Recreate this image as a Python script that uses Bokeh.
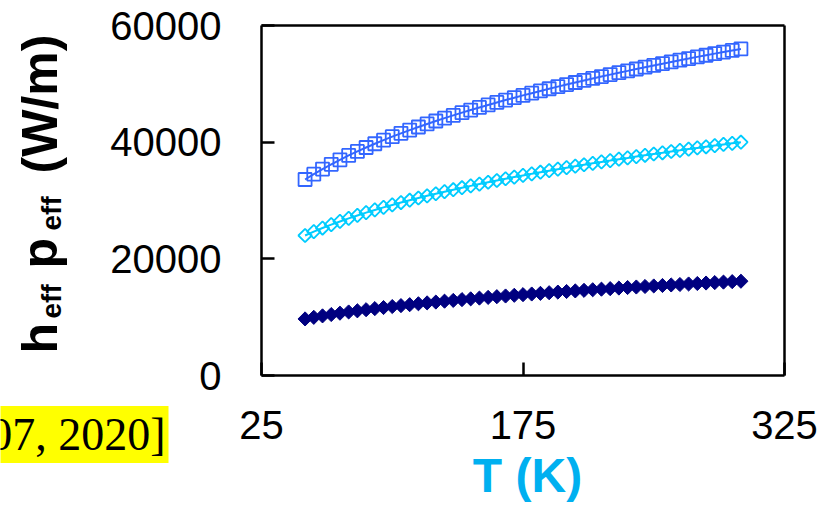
import math
from bokeh.plotting import figure
from bokeh.models import Range1d, FixedTicker, Label, NumeralTickFormatter, LinearAxis
from bokeh.embed import file_html
from bokeh.resources import INLINE

# ---- data ----
T = [50, 55, 60, 65, 70, 75, 80, 85, 90, 95, 100, 105, 110, 115, 120, 125,
     130, 135, 140, 145, 150, 155, 160, 165, 170, 175, 180, 185, 190, 195,
     200, 205, 210, 215, 220, 225, 230, 235, 240, 245, 250, 255, 260, 265,
     270, 275, 280, 285, 290, 295, 300]

BLUE_SQ = [33600, 34520, 35390, 36210, 36980, 37720, 38410, 39090, 39730, 40340,
           40940, 41510, 42070, 42600, 43120, 43630, 44120, 44590, 45060, 45510,
           45950, 46380, 46810, 47220, 47620, 48020, 48400, 48780, 49160, 49520,
           49880, 50230, 50580, 50920, 51250, 51580, 51910, 52220, 52540, 52850,
           53160, 53450, 53750, 54050, 54330, 54620, 54900, 55180, 55450, 55720,
           55990]

CYAN_DM = [24000, 24660, 25280, 25860, 26410, 26940, 27440, 27920, 28380, 28820,
           29240, 29650, 30050, 30430, 30800, 31160, 31510, 31850, 32190, 32510,
           32820, 33130, 33430, 33730, 34020, 34300, 34570, 34850, 35110, 35370,
           35630, 35880, 36130, 36370, 36610, 36840, 37080, 37300, 37530, 37750,
           37970, 38180, 38400, 38600, 38810, 39010, 39210, 39410, 39610, 39800,
           39990]

NAVY_DM = [9700, 9970, 10220, 10450, 10680, 10890, 11090, 11280, 11470, 11650,
           11820, 11980, 12140, 12300, 12450, 12590, 12740, 12870, 13010, 13140,
           13270, 13390, 13510, 13630, 13750, 13860, 13970, 14080, 14190, 14300,
           14400, 14500, 14600, 14700, 14800, 14890, 14990, 15080, 15170, 15260,
           15350, 15430, 15520, 15600, 15690, 15770, 15850, 15930, 16010, 16090,
           16160]

X_TICKS = [25, 175, 325]
Y_TICKS = [0, 20000, 40000, 60000]
X_MIN, X_MAX = 25, 325
Y_MIN, Y_MAX = 0, 60000

# ---- layout (picture pixels) ----
W, H = 832, 504
FL, FR, FT, FB = 261, 784, 25, 375  # box edges of the data area


def dx(px):
    return X_MIN + (px - FL) * (X_MAX - X_MIN) / (FR - FL)


def dy(py):
    return Y_MIN + (FB - py) * (Y_MAX - Y_MIN) / (FB - FT)


# the frame spans the whole canvas; the boxed data area is drawn by axes
p = figure(width=W, height=H,
           x_range=Range1d(dx(0), dx(W)), y_range=Range1d(dy(H), dy(0)),
           x_axis_location=None, y_axis_location=None, min_border=0,
           output_backend="svg", toolbar_location=None)
p.background_fill_color = "white"
p.border_fill_color = "white"
p.outline_line_color = None
p.grid.visible = False


def style_axis(ax, with_labels):
    ax.axis_line_color = "black"
    ax.axis_line_width = 2.5
    ax.major_tick_in = 13
    ax.major_tick_out = 0
    ax.major_tick_line_width = 2.5
    ax.major_tick_line_color = "black" if with_labels else None
    ax.minor_tick_line_color = None
    ax.major_label_text_font = "Liberation Sans"
    ax.major_label_text_font_size = "40px"
    ax.major_label_text_color = "black" if with_labels else None


xaxis = LinearAxis(fixed_location=Y_MIN, bounds=(X_MIN, X_MAX),
                   ticker=FixedTicker(ticks=X_TICKS))
style_axis(xaxis, True)
xaxis.major_label_standoff = 35
p.add_layout(xaxis, "below")

yaxis = LinearAxis(fixed_location=X_MIN, bounds=(Y_MIN, Y_MAX),
                   ticker=FixedTicker(ticks=Y_TICKS),
                   formatter=NumeralTickFormatter(format="0"))
style_axis(yaxis, True)
yaxis.major_label_standoff = 40
p.add_layout(yaxis, "left")

top = LinearAxis(fixed_location=Y_MAX, bounds=(X_MIN, X_MAX),
                 ticker=FixedTicker(ticks=[]))
style_axis(top, False)
p.add_layout(top, "above")

right = LinearAxis(fixed_location=X_MAX, bounds=(Y_MIN, Y_MAX),
                   ticker=FixedTicker(ticks=[]))
style_axis(right, False)
p.add_layout(right, "right")

# ---- series ----
p.line(T, NAVY_DM, line_color="#000080", line_width=2)
p.scatter(T, NAVY_DM, marker="square", size=10, angle=math.pi / 4,
          fill_color="#000080", line_color="#000080", line_width=1)

p.line(T, CYAN_DM, line_color="#00CCFF", line_width=2)
p.scatter(T, CYAN_DM, marker="square", size=9.5, angle=math.pi / 4,
          fill_color=None, line_color="#00CCFF", line_width=1.8)

p.line(T, BLUE_SQ, line_color="#3366FF", line_width=2)
p.scatter(T, BLUE_SQ, marker="square", size=13,
          fill_color=None, line_color="#3366FF", line_width=1.8)

# ---- axis titles ----
p.add_layout(Label(x=dx(527), y=dy(475), text="T (K)", text_align="center",
                   text_baseline="middle", text_font="Liberation Sans",
                   text_font_style="bold", text_font_size="48px",
                   text_color="#00B0F0"))

YLABEL_PARTS = [("h", 353, 39, "50px"), ("eff", 318, 51, "28px"),
                ("p", 268, 39, "50px"), ("eff", 230, 51, "28px"),
                ("(W/m)", 173, 39, "50px")]
for txt, py, px, fs in YLABEL_PARTS:
    p.add_layout(Label(x=dx(px), y=dy(py), text=txt, angle=math.pi / 2,
                       text_align="left", text_baseline="alphabetic",
                       text_font="Liberation Sans", text_font_style="bold",
                       text_font_size=fs, text_color="black"))

# ---- cropped citation fragment ----
p.add_layout(Label(x=dx(168), y=dy(434), text="07, 2020]", text_align="right",
                   text_baseline="middle", text_font="Liberation Serif",
                   text_font_size="46px", text_color="black",
                   background_fill_color="#FFFF00", padding=3))

open("out.html", "w").write(file_html(p, INLINE))
